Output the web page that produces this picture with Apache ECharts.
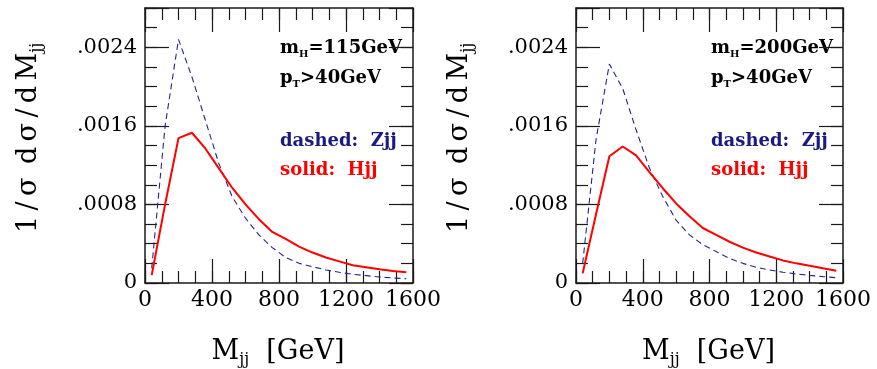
<!DOCTYPE html>
<html><head><meta charset="utf-8">
<script src="https://cdn.jsdelivr.net/npm/echarts@6/dist/echarts.min.js"></script>
<style>html,body{margin:0;padding:0;background:#fff}#c{width:877px;height:369px}</style>
</head><body><div id="c"></div>
<script>
// ---- data ----
const mjj = [40,120,200,280,360,440,520,600,680,760,840,920,1000,1080,1160,1240,1320,1400,1480,1560];
const zjj115 = [0.00015,0.0016,0.00248,0.0021,0.00166,0.00122,0.00088,0.00066,0.00049,0.00036,0.00026,0.0002,0.000166,0.000133,0.000109,0.000088,0.000075,0.000061,0.000051,0.000044];
const hjj115 = [0.00008,0.0008,0.001475,0.00153,0.00137,0.00117,0.00097,0.0008,0.00065,0.00052,0.00045,0.00037,0.00031,0.00026,0.00022,0.00018,0.00016,0.00014,0.000122,0.000109];
const zjj200 = [0.0002,0.00146,0.00223,0.00198,0.00156,0.00117,0.00088,0.00064,0.00049,0.00039,0.00032,0.00025,0.0002,0.00016,0.000133,0.00011,0.000092,0.000078,0.000065,0.000054];
const hjj200 = [0.0001,0.0007,0.00129,0.00139,0.0013,0.00113,0.000965,0.00081,0.00068,0.00056,0.00049,0.00042,0.00036,0.00031,0.00027,0.00023,0.0002,0.000176,0.00015,0.000125];
const xTicks = [0,400,800,1200,1600];
const xTickLabels = ['0','400','800','1200','1600'];
const yTicks = [0,0.0008,0.0016,0.0024];
const yTickLabels = ['0','.0008','.0016','.0024'];
const higgsMasses = ['115','200'];
const ptCut = '40';

// ---- layout ----
const FONT = 'DejaVu Serif';
const FRAME = '#1a1a1a';
const grids = [
  {left:145, top:8, width:268, height:275},
  {left:576, top:8, width:267, height:275}
];
const XMAX = 1600, YMAX = 0.0028;

function lookup(v, ticks, labels){
  for (let i=0;i<ticks.length;i++) if (Math.abs(v-ticks[i]) < 1e-9*Math.max(1,Math.abs(ticks[i]))) return labels[i];
  return '';
}

const xAxes = [], yAxes = [];
grids.forEach((g, gi) => {
  const base = {gridIndex: gi, type:'value', splitLine:{show:false}, axisPointer:{show:false}};
  const line = {show:true, onZero:false, lineStyle:{color:FRAME, width:1.5}};
  const noline = {show:false, onZero:false};
  const tick = (len) => ({show:true, inside:true, length:len, lineStyle:{color:FRAME, width:1.2}});
  xAxes.push(Object.assign({}, base, {position:'bottom', min:0, max:XMAX, interval:400, axisLine:line, axisTick:tick(24),
    axisLabel:{show:true, margin:6, fontFamily:FONT, fontSize:22, color:'#000', formatter:v=>lookup(v,xTicks,xTickLabels)}}));
  xAxes.push(Object.assign({}, base, {position:'bottom', min:0, max:XMAX, interval:100, axisLine:noline, axisTick:tick(12), axisLabel:{show:false}}));
  xAxes.push(Object.assign({}, base, {position:'top', min:0, max:XMAX, interval:400, axisLine:line, axisTick:tick(24), axisLabel:{show:false}}));
  xAxes.push(Object.assign({}, base, {position:'top', min:0, max:XMAX, interval:100, axisLine:noline, axisTick:tick(12), axisLabel:{show:false}}));
  yAxes.push(Object.assign({}, base, {position:'left', min:0, max:YMAX, interval:0.0008, axisLine:line, axisTick:tick(24),
    axisLabel:{show:true, margin:8, fontFamily:FONT, fontSize:21, color:'#000', formatter:v=>lookup(v,yTicks,yTickLabels)}}));
  yAxes.push(Object.assign({}, base, {position:'left', min:0, max:YMAX, interval:0.0002, axisLine:noline, axisTick:tick(12), axisLabel:{show:false}}));
  yAxes.push(Object.assign({}, base, {position:'right', min:0, max:YMAX, interval:0.0008, axisLine:line, axisTick:tick(24), axisLabel:{show:false}}));
  yAxes.push(Object.assign({}, base, {position:'right', min:0, max:YMAX, interval:0.0002, axisLine:noline, axisTick:tick(12), axisLabel:{show:false}}));
});

function pairs(xs, ys){ return xs.map((x,i)=>[x, ys[i]]); }
const dashedStyle = {color:'#24248c', width:1.1, type:[6,4]};
const solidStyle = {color:'#ff0000', width:2};
const series = [
  {type:'line', xAxisIndex:0, yAxisIndex:0, data:pairs(mjj,zjj115), symbol:'none', lineStyle:dashedStyle, silent:true, z:3},
  {type:'line', xAxisIndex:0, yAxisIndex:0, data:pairs(mjj,hjj115), symbol:'none', lineStyle:solidStyle, silent:true, z:4},
  {type:'line', xAxisIndex:4, yAxisIndex:4, data:pairs(mjj,zjj200), symbol:'none', lineStyle:dashedStyle, silent:true, z:3},
  {type:'line', xAxisIndex:4, yAxisIndex:4, data:pairs(mjj,hjj200), symbol:'none', lineStyle:solidStyle, silent:true, z:4}
];

const boldRich = {
  b:{fontFamily:FONT, fontWeight:'bold', fontSize:18, lineHeight:22, fill:'#000', color:'#000'},
  s:{fontFamily:FONT, fontWeight:'bold', fontSize:10, lineHeight:13, verticalAlign:'bottom', fill:'#000', color:'#000'},
  z:{fontFamily:FONT, fontWeight:'bold', fontSize:18, lineHeight:22, fill:'#1a1a80', color:'#1a1a80'},
  h:{fontFamily:FONT, fontWeight:'bold', fontSize:18, lineHeight:22, fill:'#ff0000', color:'#ff0000'}
};
const titleRich = {
  m:{fontFamily:FONT, fontSize:27, lineHeight:32, fill:'#000', color:'#000'},
  s:{fontFamily:FONT, fontSize:16, lineHeight:20, verticalAlign:'bottom', fill:'#000', color:'#000'}
};

const graphic = [];
grids.forEach((g, gi) => {
  const tx = g.left + 135;
  const mk = (y, text) => graphic.push({type:'text', silent:true, style:{x:tx, y:y, text:text, rich:boldRich, align:'left', verticalAlign:'middle'}});
  mk(48, '{b|m}{s|H}{b|=' + higgsMasses[gi] + 'GeV}');
  mk(78, '{b|p}{s|T}{b|>' + ptCut + 'GeV}');
  mk(141, '{z|dashed:  Zjj}');
  mk(170, '{h|solid:  Hjj}');
  graphic.push({type:'text', silent:true, style:{x:g.left + g.width/2 - 1, y:352, text:'{m|M}{s|jj}{m|  [GeV]}', rich:titleRich, align:'center', verticalAlign:'middle'}});
  graphic.push({type:'text', silent:true, x: g.left - 116, y: 138, rotation: Math.PI/2,
    style:{x:0, y:0, text:'{m|1\u2009/\u2009σ\u2002d\u2009σ\u2009/\u2009d\u2009M}{s|jj}', rich:titleRich, align:'center', verticalAlign:'middle'}});
});

const chart = echarts.init(document.getElementById('c'), null, {renderer:'canvas'});
chart.setOption({
  animation:false,
  backgroundColor:'#fff',
  grid: grids.map(g=>Object.assign({containLabel:false}, g)),
  xAxis: xAxes,
  yAxis: yAxes,
  series: series,
  graphic: graphic
});
</script>
</body></html>
